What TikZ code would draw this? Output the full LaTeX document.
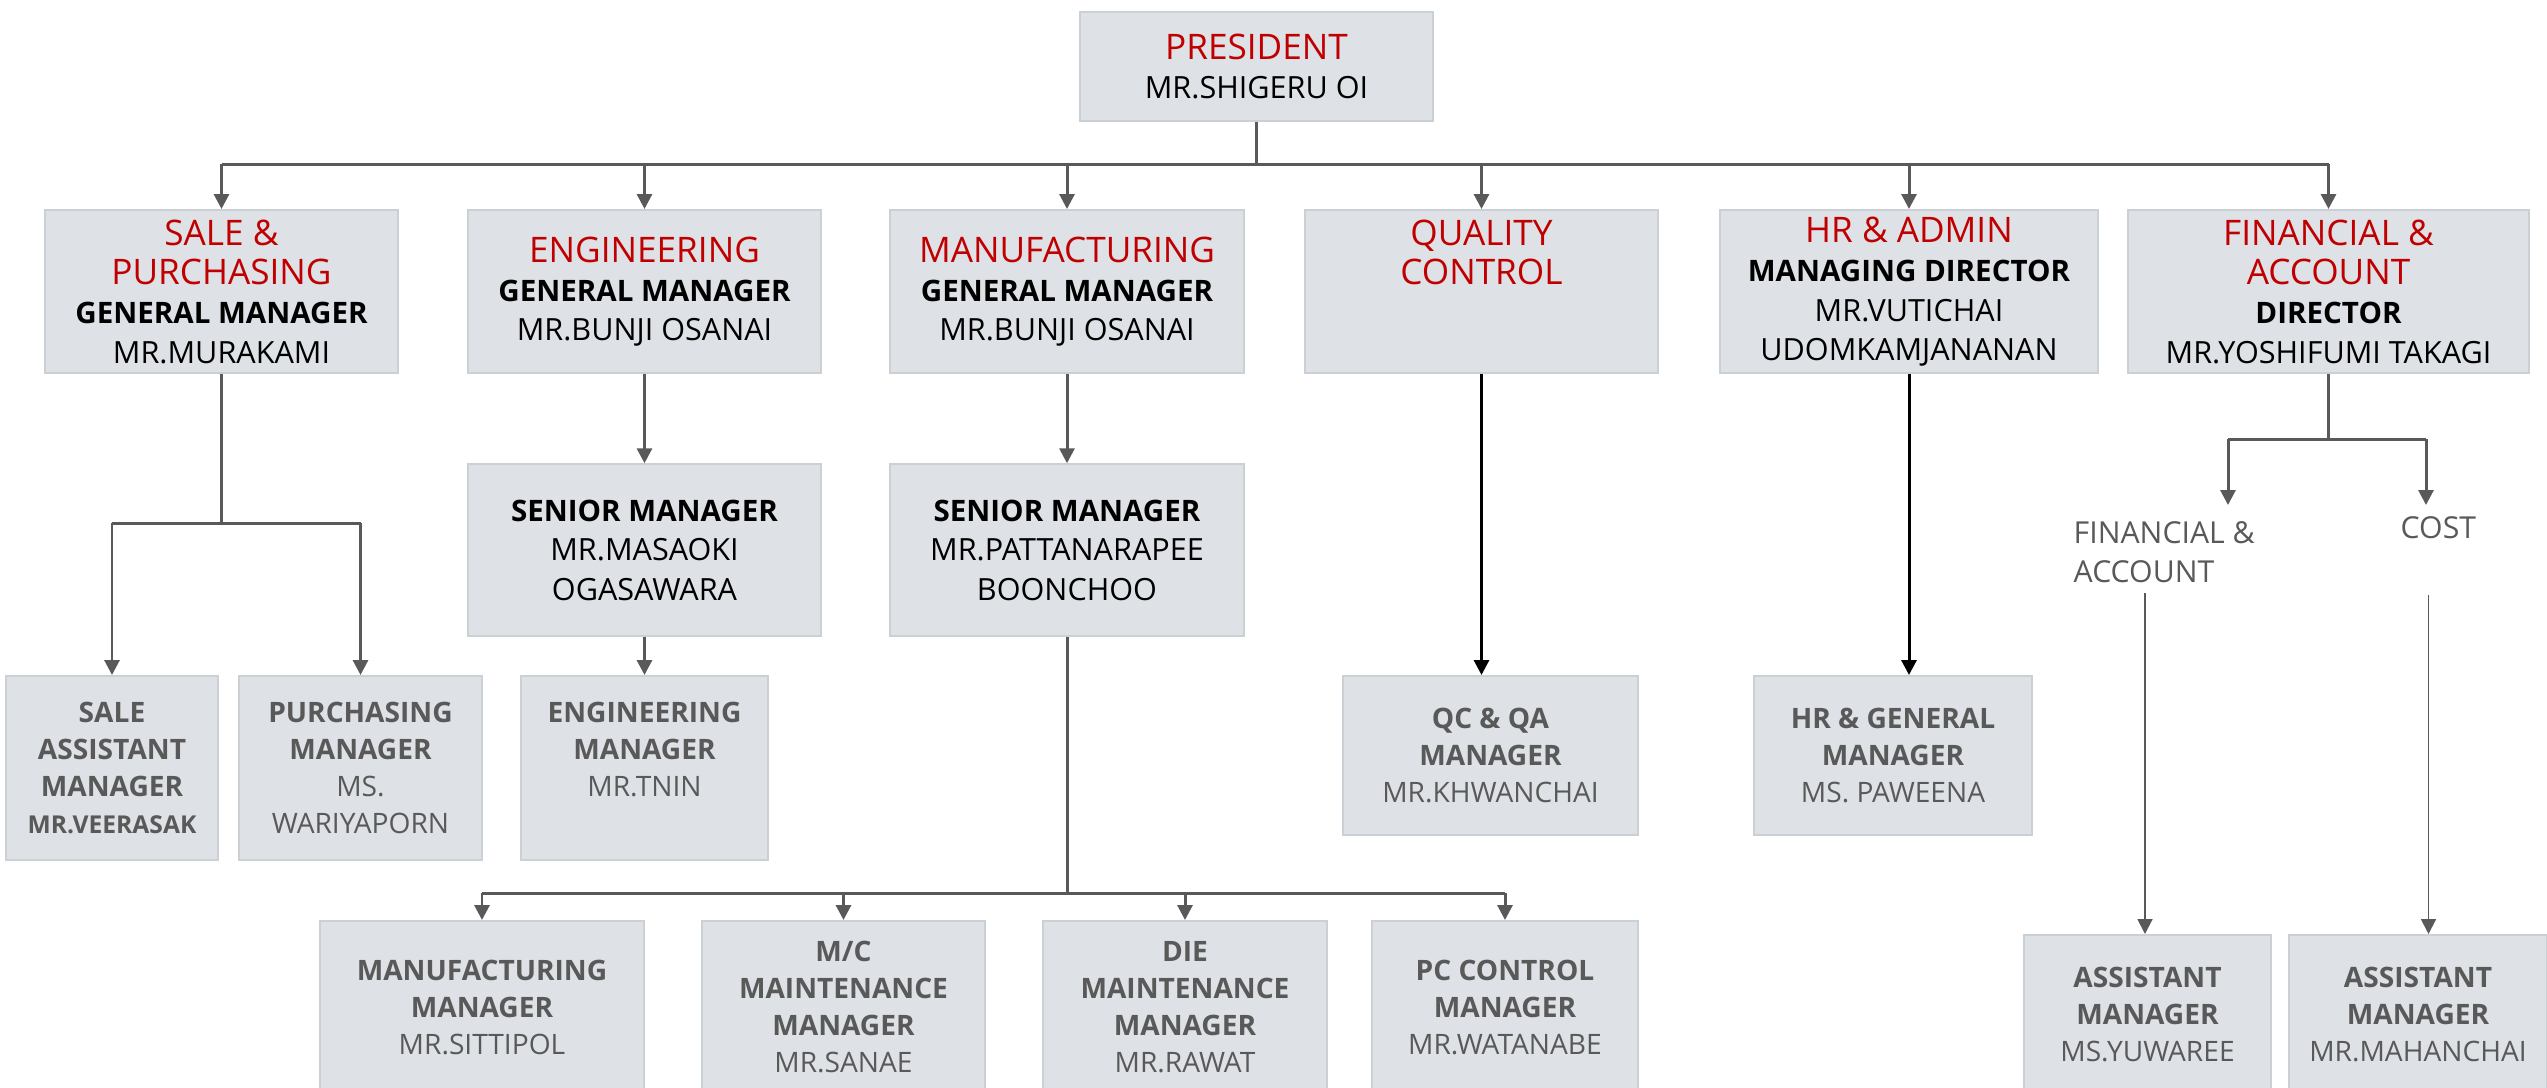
\documentclass[tikz,border=0pt]{standalone}
\usepackage{fontspec}
\setmainfont{Open Sans}
\usetikzlibrary{arrows.meta,calc,positioning}
\definecolor{deptred}{HTML}{C00000}
\definecolor{boxgrey}{HTML}{DEE1E5}
\definecolor{boxedge}{HTML}{CBD0D5}
\definecolor{linegrey}{HTML}{595959}
\newcommand{\dept}[1]{{\color{deptred}\fontsize{10}{11.2}\selectfont #1}}
\newcommand{\rank}[1]{{\fontsize{8.4}{11.2}\selectfont\bfseries #1}}
\newcommand{\who}[1]{{\fontsize{8.7}{11.2}\selectfont #1}}
\newcommand{\post}[1]{{\bfseries #1}}

\begin{document}
\begin{tikzpicture}[x=0.01cm,y=-0.01cm,font=\fontsize{9}{11.2}\selectfont]

\tikzset{greynode/.style={fill=boxgrey,draw=boxedge,line width=0.6pt,inner sep=0pt,anchor=north,align=center,minimum width=3.53cm,minimum height=1.63cm},
lownode/.style={greynode,text=linegrey,font=\fontsize{8}{10.5}\selectfont},
greyline/.style={draw=linegrey,line width=0.85pt},
greyarrow/.style={greyline,-{Triangle[width=4.2pt,length=4.2pt]}},
blackarrow/.style={greyarrow,draw=black},
thinarrow/.style={greyarrow,line width=0.55pt},
greytext/.style={text=linegrey,align=left,inner sep=0pt,anchor=north west,font=\fontsize{8.6}{11}\selectfont}}

% Frame
\useasboundingbox (0,0) rectangle (2547,1087);
\clip (0,0) rectangle (2547,1087);

% President
\node[greynode,minimum height=1.09cm] (pres) at (1256.5,11) {\dept{PRESIDENT}\\\who{MR.SHIGERU OI}};

% Departments
\node[greynode] (sale) at (221.5,209) {\dept{SALE \&}\\\dept{PURCHASING}\\\rank{GENERAL MANAGER}\\\who{MR.MURAKAMI}};
\node[greynode] (eng) at (644.5,209) {\dept{ENGINEERING}\\\rank{GENERAL MANAGER}\\\who{MR.BUNJI OSANAI}};
\node[greynode] (mfg) at (1067,209) {\dept{MANUFACTURING}\\\rank{GENERAL MANAGER}\\\who{MR.BUNJI OSANAI}};
\node[greynode] (qc) at (1481.5,209) {\dept{QUALITY}\\\dept{CONTROL}\\\phantom{M}\\\phantom{M}};
\node[greynode,minimum width=3.78cm] (hr) at (1909,209) {\dept{HR \& ADMIN}\\\rank{MANAGING DIRECTOR}\\\who{MR.VUTICHAI}\\\who{UDOMKAMJANANAN}};
\node[greynode,minimum width=4.01cm] (fin) at (2328.5,209) {\dept{FINANCIAL \&}\\\dept{ACCOUNT}\\\rank{DIRECTOR}\\\who{MR.YOSHIFUMI TAKAGI}};

% Senior managers
\node[greynode,minimum height=1.72cm,below=0.89cm of eng] (engsm) {\rank{SENIOR MANAGER}\\\who{MR.MASAOKI}\\\who{OGASAWARA}};
\node[greynode,minimum height=1.72cm,below=0.89cm of mfg] (mfgsm) {\rank{SENIOR MANAGER}\\\who{MR.PATTANARAPEE}\\\who{BOONCHOO}};

% Managers
\node[lownode,minimum width=2.12cm,minimum height=1.84cm] (saleasst) at (112,675) {\post{SALE}\\\post{ASSISTANT}\\\post{MANAGER}\\{\bfseries\fontsize{7}{10}\selectfont MR.VEERASAK}};
\node[lownode,minimum width=2.43cm,minimum height=1.84cm] (purch) at (360.5,675) {\post{PURCHASING}\\\post{MANAGER}\\MS.\\WARIYAPORN};
\node[lownode,minimum width=2.47cm,minimum height=1.84cm] (engmgr) at (644.5,675) {\post{ENGINEERING}\\\post{MANAGER}\\MR.TNIN\\\phantom{M}};
\node[lownode,minimum width=2.95cm,minimum height=1.59cm] (qa) at (1490.5,675) {\post{QC \& QA}\\\post{MANAGER}\\MR.KHWANCHAI};
\node[lownode,minimum width=2.78cm,minimum height=1.59cm] (hrgm) at (1893,675) {\post{HR \& GENERAL}\\\post{MANAGER}\\MS. PAWEENA};

% Manufacturing sections
\node[lownode,minimum width=3.24cm,minimum height=1.72cm] (mfgmgr) at (482,920) {\post{MANUFACTURING}\\\post{MANAGER}\\MR.SITTIPOL};
\node[lownode,minimum width=2.83cm,minimum height=1.72cm] (mc) at (843.5,920) {\post{M/C}\\\post{MAINTENANCE}\\\post{MANAGER}\\MR.SANAE};
\node[lownode,minimum width=2.84cm,minimum height=1.72cm] (die) at (1185,920) {\post{DIE}\\\post{MAINTENANCE}\\\post{MANAGER}\\MR.RAWAT};
\node[lownode,minimum width=2.66cm,minimum height=1.72cm] (pc) at (1505,920) {\post{PC CONTROL}\\\post{MANAGER}\\MR.WATANABE};

% Financial sections
\node[greytext] (fa) at (2073,521) {FINANCIAL \&\\ACCOUNT};
\node[greytext] (cost) at (2400,516) {COST};
\node[lownode,minimum width=2.47cm,minimum height=1.58cm] (yuw) at (2147.5,934) {\post{ASSISTANT}\\\post{MANAGER}\\MS.YUWAREE};
\node[lownode,minimum width=2.58cm,minimum height=1.58cm] (mahan) at (2418,934) {\post{ASSISTANT}\\\post{MANAGER}\\MR.MAHANCHAI};

% President to departments
\coordinate (bus) at (1256.5,164);
\draw[greyline] (pres) -- (bus);
\draw[greyline] (bus -| sale) -- (bus -| fin);
\foreach \d in {sale,eng,mfg,qc,hr,fin} \draw[greyarrow] (bus -| \d) -- (\d);

% Sale & purchasing
\coordinate (salefork) at (221.5,523);
\draw[greyline] (sale) -- (salefork);
\draw[greyline] (salefork -| saleasst) -- (salefork -| purch);
\foreach \d in {saleasst,purch} \draw[greyarrow] (salefork -| \d) -- (\d);

% Engineering and manufacturing
\draw[greyarrow] (eng) -- (engsm);
\draw[greyarrow] (engsm) -- (engmgr);
\draw[greyarrow] (mfg) -- (mfgsm);
\coordinate (mfgbus) at (1067,893);
\draw[greyline] (mfgsm) -- (mfgbus);
\draw[greyline] (mfgbus -| mfgmgr) -- (mfgbus -| pc);
\foreach \d in {mfgmgr,mc,die,pc} \draw[greyarrow] (mfgbus -| \d) -- (\d);

% QC and HR
\draw[blackarrow] (qc) -- (qc |- qa.north);
\draw[blackarrow] (hr) -- (hr |- hrgm.north);

% Financial
\coordinate (finfork) at (2328.5,439);
\coordinate (faTop) at (2228,505);
\coordinate (costTop) at (2426,505);
\draw[greyline] (fin) -- (finfork);
\draw[greyline] (faTop |- finfork) -- (costTop |- finfork);
\foreach \t in {faTop,costTop} \draw[greyarrow] (\t |- finfork) -- (\t);
\coordinate (faFoot) at (2145,593);
\coordinate (costFoot) at (2428.5,595);
\draw[thinarrow] (faFoot) -- (faFoot |- yuw.north);
\draw[thinarrow] (costFoot) -- (costFoot |- mahan.north);

\end{tikzpicture}
\end{document}
